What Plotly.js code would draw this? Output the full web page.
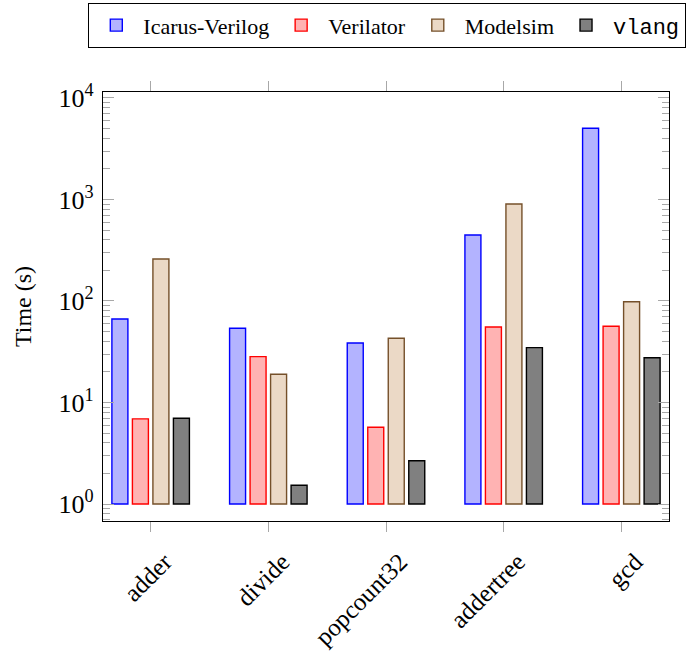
<!DOCTYPE html>
<html>
<head>
<meta charset="utf-8">
<script src="https://cdn.plot.ly/plotly-3.0.1.min.js"></script>
<style>html,body{margin:0;padding:0;background:#fff;}</style>
</head>
<body>
<div id="chart" style="width:694px;height:651px;"></div>
<script>
const categories = ['adder', 'divide', 'popcount32', 'addertree', 'gcd'];
const icarus = [66.5, 53.8, 38.6, 447, 5030];
const verilator = [6.9, 28.3, 5.7, 55.4, 56.3];
const modelsim = [259, 19.0, 42.9, 903, 98.4];
const vlang = [7.0, 1.53, 2.67, 34.7, 27.6];
const seriesNames = ['Icarus-Verilog', 'Verilator', 'Modelsim', '<span style="font-family:\'Liberation Mono\', monospace">vlang</span>'];
const yTickVals = [1, 10, 100, 1000, 10000];
const yTickText = ['10<sup>0</sup>', '10<sup>1</sup>', '10<sup>2</sup>', '10<sup>3</sup>', '10<sup>4</sup>'];
const barBase = 1;

const fills = ['rgb(179,179,255)', 'rgb(255,179,179)', 'rgb(235,217,198)', 'rgb(128,128,128)'];
const lines = ['rgb(0,0,255)', 'rgb(255,0,0)', 'rgb(117,80,42)', 'rgb(0,0,0)'];
const allSeries = [icarus, verilator, modelsim, vlang];

const traces = allSeries.map((vals, i) => ({
  type: 'bar',
  x: categories,
  y: vals.map(v => v - barBase),
  base: barBase,
  name: seriesNames[i],
  marker: {color: fills[i], line: {color: lines[i], width: 1.4}},
  hoverinfo: 'skip'
}));

const serif = 'Liberation Serif, Times New Roman, serif';
const layout = {
  width: 694, height: 651,
  margin: {l: 103, r: 25, t: 92, b: 130, autoexpand: false},
  paper_bgcolor: '#fff', plot_bgcolor: '#fff',
  barmode: 'group',
  bargap: 0.303,
  bargroupgap: 0.22,
  font: {family: serif, size: 22, color: '#000'},
  showlegend: true,
  legend: {
    orientation: 'h',
    x: -0.0265, xanchor: 'left', y: 1.2075, yanchor: 'top',
    bordercolor: '#000', borderwidth: 1.3, font: {family: serif, size: 22, color: '#000'},
    itemwidth: 44, traceorder: 'normal'
  },
  xaxis: {
    type: 'category',
    range: [-0.405, 4.405],
    showline: true, linecolor: '#000', linewidth: 1.3, mirror: 'allticks',
    ticks: 'outside', ticklen: 10, tickcolor: '#a8a8a8', tickwidth: 1,
    tickangle: -45, tickfont: {family: serif, size: 25},
    ticklabelshift: 14, ticklabelstandoff: 5,
    showgrid: false, zeroline: false
  },
  yaxis: {
    type: 'log',
    range: [-0.1675, 4.059],
    showline: true, linecolor: '#000', linewidth: 1.3, mirror: 'allticks',
    tickmode: 'array', tickvals: yTickVals, ticktext: yTickText,
    ticks: 'inside', ticklen: 11, tickcolor: '#a8a8a8', tickwidth: 1,
    minor: {dtick: 'D1', ticks: 'inside', ticklen: 7, tickcolor: '#a8a8a8', tickwidth: 1, showgrid: false},
    tickfont: {family: serif, size: 26},
    ticklabelstandoff: 3,
    title: {text: 'Time (s)', font: {family: serif, size: 24}, standoff: 20},
    showgrid: false, zeroline: false
  }
};

Plotly.newPlot('chart', traces, layout, {displayModeBar: false, staticPlot: true});
</script>
</body>
</html>
